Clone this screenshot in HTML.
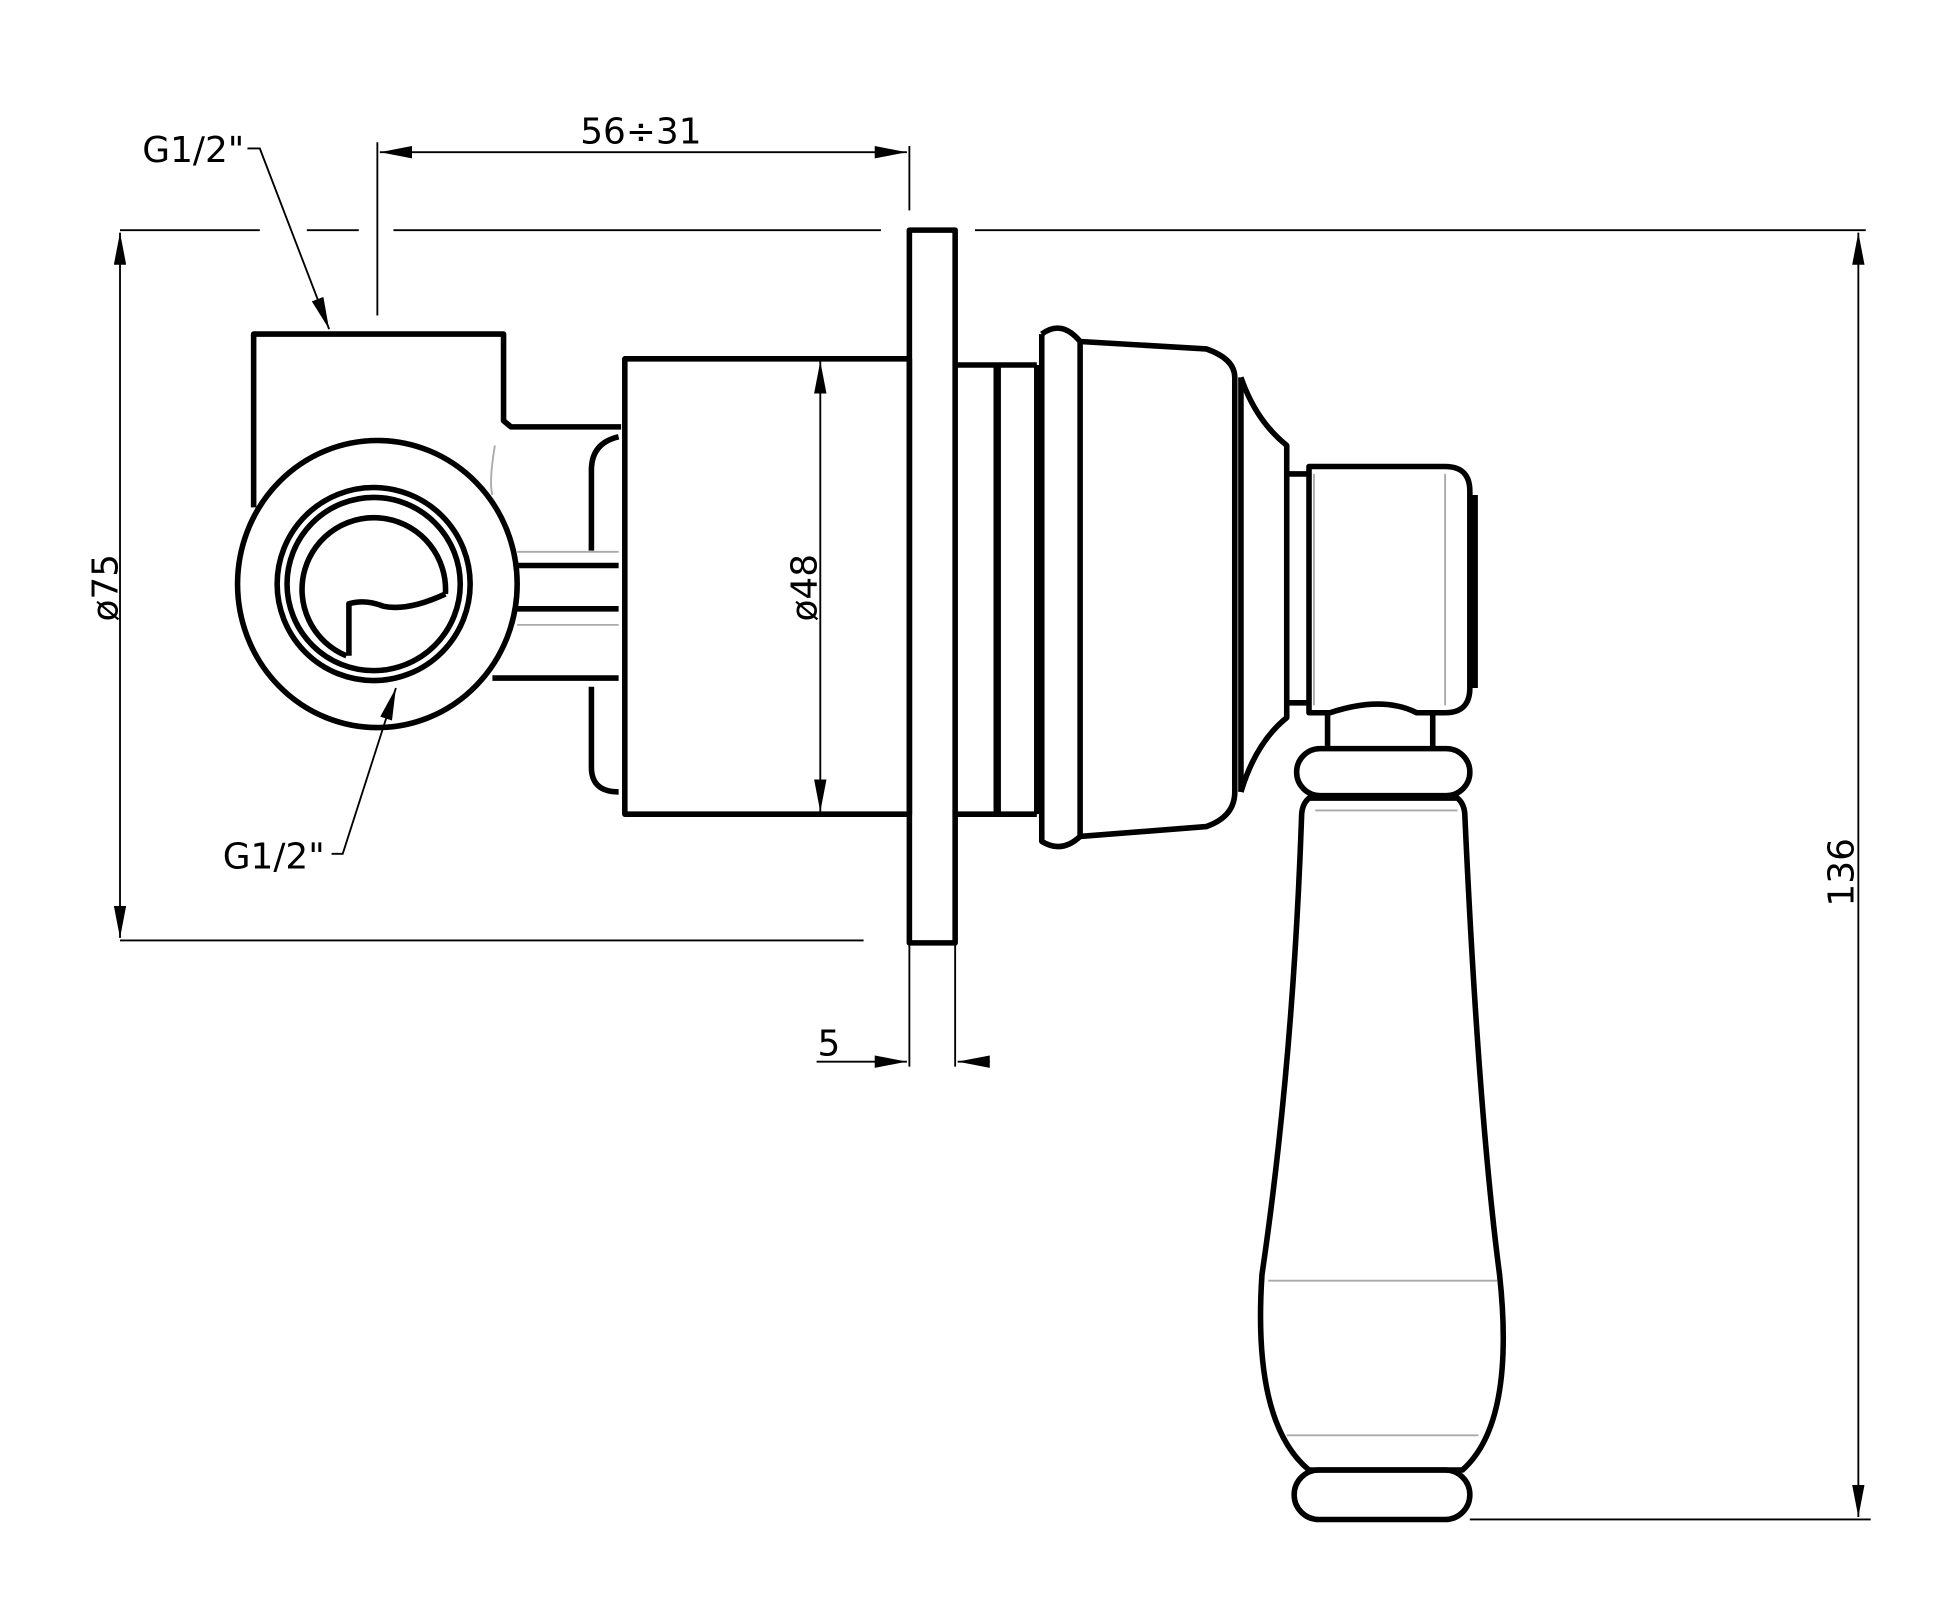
<!DOCTYPE html>
<html><head><meta charset="utf-8"><style>html,body{margin:0;padding:0;background:#fff}svg{display:block}</style></head>
<body>
<svg width="1940" height="1616" viewBox="0 0 1568 1306" preserveAspectRatio="none" xmlns="http://www.w3.org/2000/svg">
<defs>
<marker id="a" viewBox="0 0 26 10" refX="26" refY="5" markerWidth="26" markerHeight="10" markerUnits="userSpaceOnUse" orient="auto-start-reverse"><path d="M0,0 L26,5 L0,10 z" fill="#000"/></marker>
</defs>
<g fill="none" stroke="#000" stroke-width="1.5">
<path d="M97,186H210M248,186H290M318,186H712M788,186H1508"/>
<path d="M97,760H698"/>
<path d="M1188,1228H1512"/>
<path d="M97,188V758" marker-start="url(#a)" marker-end="url(#a)"/>
<path d="M1502,188V1226" marker-start="url(#a)" marker-end="url(#a)"/>
<path d="M307,123H733" marker-start="url(#a)" marker-end="url(#a)"/>
<path d="M305,115V255M735,118V170"/>
<path d="M735,764V862M772,764V862"/>
<path d="M660,858H733" marker-end="url(#a)"/>
<path d="M800,858H774" marker-end="url(#a)"/>
<path d="M663,292V656" marker-start="url(#a)" marker-end="url(#a)"/>
<path d="M200,120H210L266,266" marker-end="url(#a)"/>
<path d="M268,690H277L320,556" marker-end="url(#a)"/>
</g>
<g font-family="'DejaVu Sans',sans-serif" font-size="29" fill="#000">
<text x="518" y="116" text-anchor="middle">56÷31</text>
<text x="115" y="131">G1/2"</text>
<text x="180" y="702">G1/2"</text>
<text x="670" y="853" text-anchor="middle">5</text>
<text transform="translate(95,475) rotate(-90)" text-anchor="middle">ø75</text>
<text transform="translate(1498,705) rotate(-90)" text-anchor="middle">136</text>
<text transform="translate(660,475) rotate(-90)" text-anchor="middle">ø48</text>
</g>
<g fill="none" stroke="#000" stroke-width="4.5" stroke-linejoin="round">
<path d="M205,410V270H407V340L413,345H502"/>
<ellipse cx="305" cy="472" rx="113" ry="116"/>
<circle cx="302" cy="472" r="78"/>
<circle cx="302" cy="472" r="70"/>
<path d="M360,480A58,58 0 1 0 280,530"/>
<path d="M282,530V488Q295,484 310,490Q330,494 360,480"/>
<path d="M418,457H500M418,492H500M398,548H500"/>
<path d="M500,353Q478,358 478,380V445M478,555V620Q478,640 500,640"/>
<rect x="505" y="290" width="230" height="368"/>
<rect x="735" y="186" width="37" height="576"/>
<path d="M772,295H838M772,658H838"/>
<path d="M806,295V658" stroke-width="6"/>
<path d="M838,295V658"/>
<path d="M842,270Q858,258 873,276V676Q858,690 842,680V270"/>
<path d="M873,276L975,282Q998,290 998,305V640Q998,660 975,668L873,676"/>
<path d="M1003,305V640"/>
<path d="M1003,305Q1015,340 1040,360V580Q1015,600 1003,640"/>
<path d="M1040,383H1058M1040,568H1058"/>
<path d="M1058,377H1168Q1188,377 1188,397V556Q1188,576 1168,576H1145Q1117,562 1075,576H1058Z"/>
<path d="M1192,400V556" stroke-width="5"/>
<path d="M1073,576V605M1158,576V605"/>
<rect x="1048" y="605" width="140" height="38" rx="19"/>
<path d="M1058,645H1178Q1184,650 1184,660Q1195,900 1212,1030Q1225,1150 1182,1188H1058Q1012,1150 1020,1030Q1045,860 1052,660Q1052,650 1058,645Z"/>
<rect x="1046" y="1188" width="142" height="40" rx="20"/>
</g>
<g stroke="#aaa" stroke-width="1.5" fill="none">
<path d="M1063,655H1178M1025,1035H1210M1040,1160H1195M1062,383V570M1168,383V570"/>
<path d="M418,446H500M418,505H500M400,360Q395,390 398,400"/>
</g>
</svg>
</body></html>
